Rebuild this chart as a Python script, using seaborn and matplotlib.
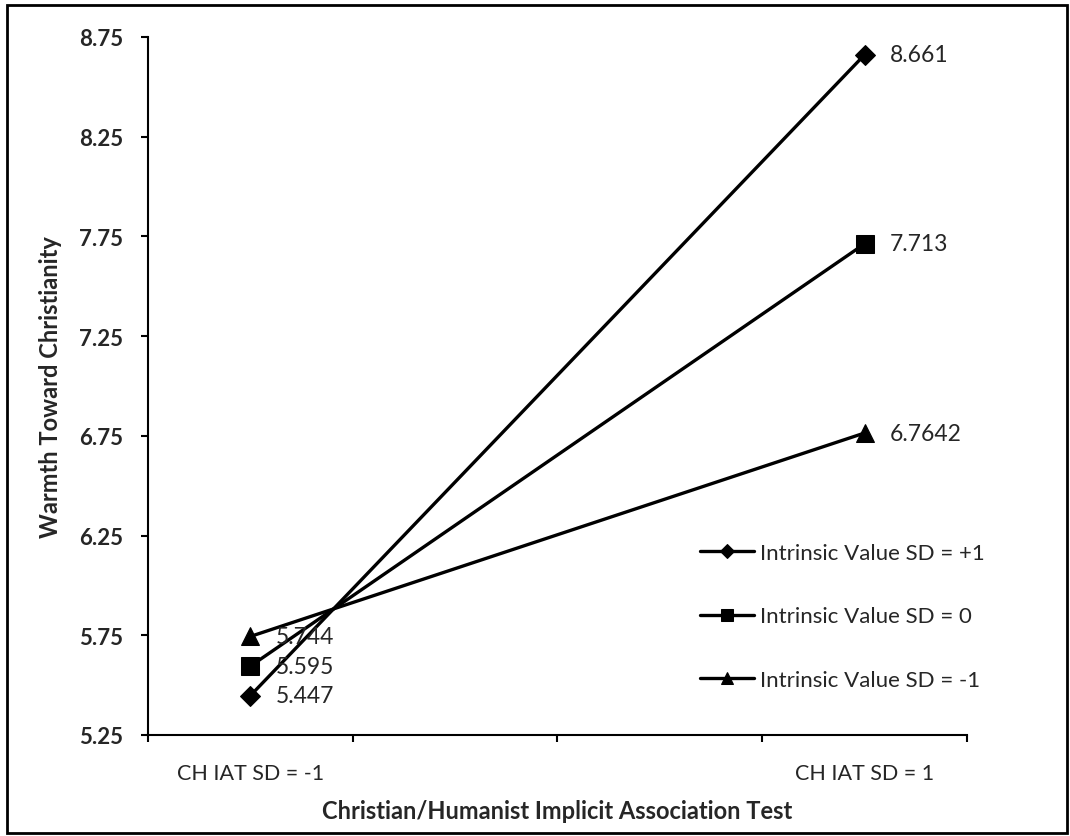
import matplotlib
matplotlib.use("Agg")
import matplotlib.pyplot as plt
import seaborn as sns
from matplotlib.patches import Rectangle

# values
groups = ["CH IAT SD = -1", "CH IAT SD = 1"]
x_pos = [0.5, 3.5]
sd_plus1 = [5.447, 8.661]
sd_zero = [5.595, 7.713]
sd_minus1 = [5.744, 6.7642]
series_names = ["Intrinsic Value SD = +1", "Intrinsic Value SD = 0", "Intrinsic Value SD = -1"]
y_ticks = [5.25, 5.75, 6.25, 6.75, 7.25, 7.75, 8.25, 8.75]

sns.set_style("white")
plt.rcParams["font.family"] = ["Lato", "DejaVu Sans"]

fig = plt.figure(figsize=(10.7, 8.37), dpi=100)
ax = fig.add_axes([0.1383, 0.1207, 0.7654, 0.8339])

styles = [("D", 10), ("s", 13), ("^", 13)]
for vals, name, (mk, ms) in zip([sd_plus1, sd_zero, sd_minus1], series_names, styles):
    sns.lineplot(x=x_pos, y=vals, ax=ax, color="black", linewidth=2.4,
                 marker=mk, markersize=ms, markeredgecolor="black", label=name)
    for xv, yv in zip(x_pos, vals):
        ax.annotate(f"{yv:g}", (xv, yv), xytext=(18, 0), textcoords="offset points",
                    va="center", ha="left", fontsize=16.5)

ax.set_xlim(0, 4)
ax.set_ylim(5.25, 8.75)
ax.set_yticks(y_ticks)
ax.set_yticklabels([f"{t:.2f}" for t in y_ticks], fontsize=16, fontweight="bold")
ax.set_xticks([0, 1, 2, 3, 4])
ax.set_xticklabels([])
ax.set_xticks(x_pos, minor=True)
ax.set_xticklabels(groups, minor=True, fontsize=15.5)
ax.tick_params(axis="both", which="major", direction="out", length=5, width=1.5,
               color="black", bottom=True, left=True)
ax.tick_params(axis="x", which="minor", length=0, pad=20, bottom=True)
ax.tick_params(axis="y", pad=13)

for s in ["top", "right"]:
    ax.spines[s].set_visible(False)
for s in ["left", "bottom"]:
    ax.spines[s].set_color("black")
    ax.spines[s].set_linewidth(1.5)

ax.set_xlabel("Christian/Humanist Implicit Association Test", fontsize=17,
              fontweight="bold", labelpad=12)
ax.set_ylabel("Warmth Toward Christianity", fontsize=17, fontweight="bold", labelpad=12)

leg = ax.legend(loc="center left", bbox_to_anchor=(0.65, 0.17), frameon=False,
                fontsize=16, handlelength=2.4, handletextpad=0.27, labelspacing=1.96)
for h, ms in zip(leg.legend_handles, [7, 8, 8]):
    h.set_markersize(ms)

fig.patches.append(Rectangle((0.007, 0.003), 0.99, 0.99, transform=fig.transFigure,
                             fill=False, edgecolor="black", linewidth=2))

fig.savefig("out.png", dpi=100)
